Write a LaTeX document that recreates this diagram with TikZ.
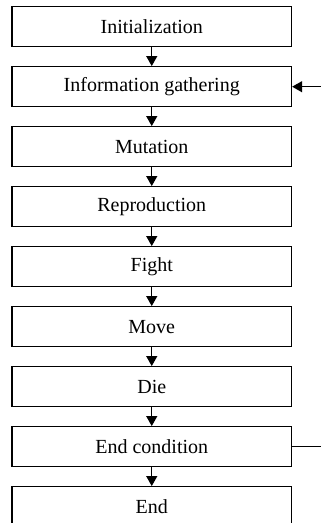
\documentclass[tikz,border=0pt]{standalone}
\usepackage{fontspec}
\setmainfont{Liberation Serif}
\usetikzlibrary{arrows.meta}

\begin{document}
\begin{tikzpicture}[x=1pt,y=1pt,
  stagebox/.style={draw=black, line width=1.3pt, rectangle, minimum width=279.5pt,
    minimum height=40pt, inner sep=0pt, font=\fontsize{20}{24}\selectfont},
  flow/.style={line width=1.3pt, -{Triangle[length=10pt,width=11pt]}},
  plainline/.style={line width=1.3pt}]
  \useasboundingbox (0,0) rectangle (321,-523);
  \clip (0,0) rectangle (321,-523);

  % the stages of one simulation cycle, top to bottom
  \foreach \name/\txt [count=\i from 0] in {
      init/Initialization,
      info/Information gathering,
      mut/Mutation,
      repr/Reproduction,
      fight/Fight,
      move/Move,
      die/Die,
      endc/End condition,
      fin/End} {
    \node[stagebox] (\name) at (151.75,{-26.7-60*\i}) {\txt};
  }

  % downward flow between consecutive stages
  \foreach \a/\b in {init/info, info/mut, mut/repr, repr/fight,
                     fight/move, move/die, die/endc, endc/fin} {
    \draw[flow] (\a.south) -- (\b.north);
  }

  % loop back from the end condition into information gathering
  \coordinate (loopin) at (321,{-26.7-60});
  \coordinate (loopout) at (321,{-26.7-60*7});
  \draw[flow] (loopin) -- (info.east);
  \draw[plainline] (endc.east) -- (loopout);
\end{tikzpicture}
\end{document}
